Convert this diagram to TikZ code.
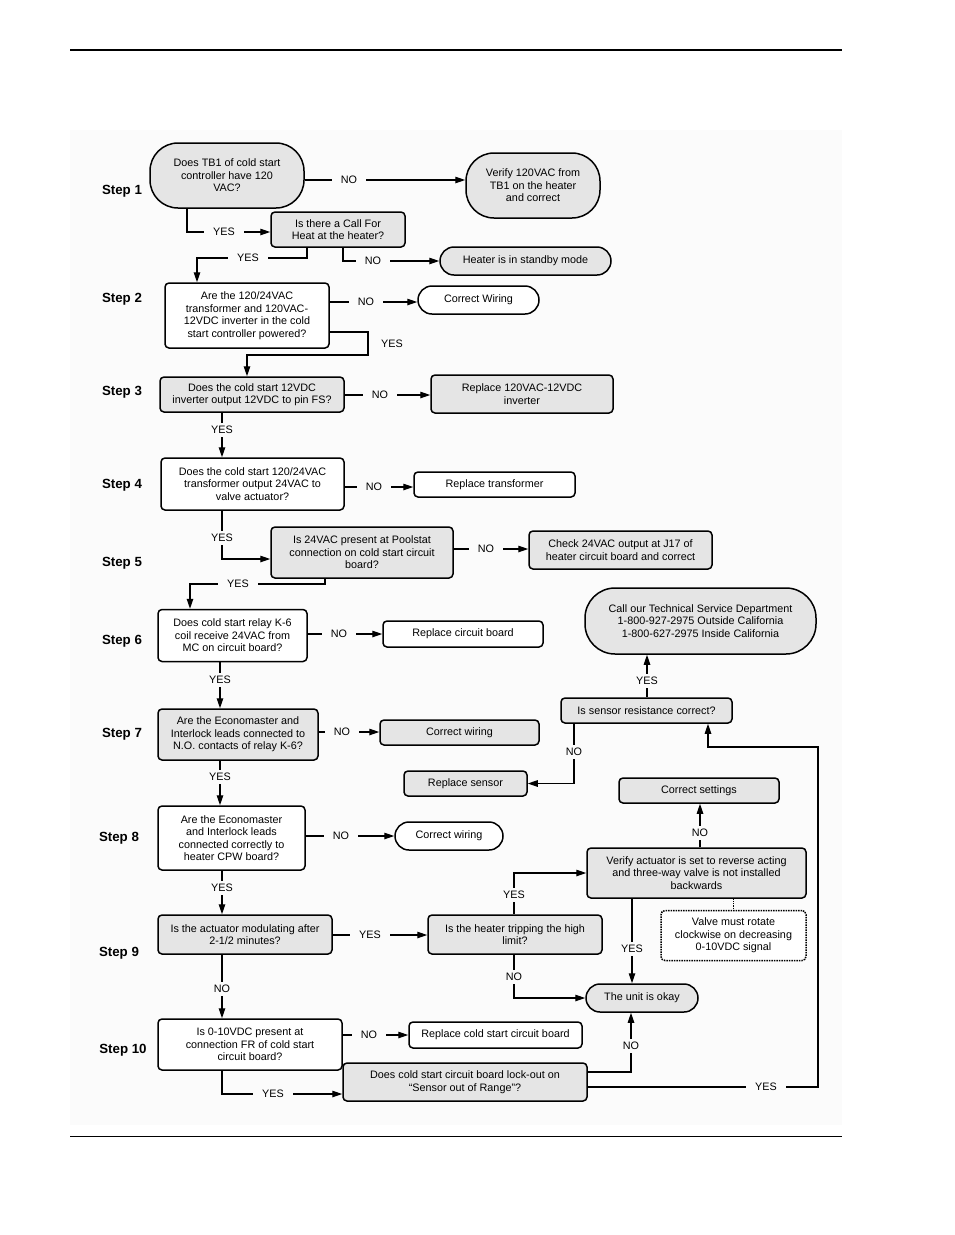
\documentclass[tikz,border=0pt]{standalone}
\usepackage{fontspec}
\setmainfont{Liberation Sans}
\usetikzlibrary{arrows.meta}
\definecolor{boxgray}{gray}{0.9}
\definecolor{pagegray}{gray}{0.985}

\begin{document}
\begin{tikzpicture}[x=1pt,y=-1pt,
    font=\fontsize{10.8}{12.5}\selectfont,
    cbox/.style 2 args={draw,line width=1.5pt,rounded corners=4pt,align=center,inner sep=1pt,fill=white,minimum width=#1,minimum height=#2},
    filled/.style={fill=boxgray},
    pill/.style={rounded corners=#1},
    steplbl/.style={font=\fontsize{13.3}{15}\selectfont\bfseries},
    ans/.style={inner xsep=9pt,inner ysep=3pt},
    wire/.style={line width=1.2pt},
    go/.style={line width=1.2pt,-{Triangle[length=10pt,width=6.5pt]}}]
    \useasboundingbox (0,0) rectangle (954,1235);
    \fill[pagegray] (70,130) rectangle (842,1125);
    \draw[line width=2pt] (70,50) -- (842,50);
    \draw[line width=1pt] (70,1136) -- (842,1136);

    \node[steplbl] (s1) at (122,191) {Step 1};
    \node[steplbl] (s2) at (122,299) {Step 2};
    \node[steplbl] (s3) at (122,392) {Step 3};
    \node[steplbl] (s4) at (122,485) {Step 4};
    \node[steplbl] (s5) at (122,563) {Step 5};
    \node[steplbl] (s6) at (122,641) {Step 6};
    \node[steplbl] (s7) at (122,734) {Step 7};
    \node[steplbl] (s8) at (119,838) {Step 8};
    \node[steplbl] (s9) at (119,953) {Step 9};
    \node[steplbl] (s10) at (123,1050) {Step 10};

    \node[cbox={154}{65},filled,pill=28pt] (q1) at (227,175.5) {Does TB1 of cold start\\controller have 120\\VAC?};
    \node[cbox={134}{65},filled,pill=28pt] (v120) at (533,185.5) {Verify 120VAC from\\TB1 on the heater\\and correct};
    \node[cbox={134}{35},filled] (cfh) at (338,229.5) {Is there a Call For\\Heat at the heater?};
    \node[cbox={171}{28},filled,pill=14pt] (stby) at (525.5,261) {Heater is in standby mode};
    \node[cbox={164}{65}] (q2) at (247,315.5) {Are the 120/24VAC\\transformer and 120VAC-\\12VDC inverter in the cold\\start controller powered?};
    \node[cbox={121}{28},pill=14pt] (cw1) at (478.5,300) {Correct Wiring};
    \node[cbox={184}{35},filled] (q3) at (252,394.5) {Does the cold start 12VDC\\inverter output 12VDC to pin FS?};
    \node[cbox={182}{38},filled] (rinv) at (522,394) {Replace 120VAC-12VDC\\inverter};
    \node[cbox={183}{52}] (q4) at (252.5,484) {Does the cold start 120/24VAC\\transformer output 24VAC to\\valve actuator?};
    \node[cbox={161}{25}] (rtr) at (494.5,484.5) {Replace transformer};
    \node[cbox={182}{51},filled] (q5) at (362,552.5) {Is 24VAC present at Poolstat\\connection on cold start circuit\\board?};
    \node[cbox={183}{38},filled] (c24) at (620.5,550) {Check 24VAC output at J17 of\\heater circuit board and correct};
    \node[cbox={149}{52}] (q6) at (232.5,635.5) {Does cold start relay K-6\\coil receive 24VAC from\\MC on circuit board?};
    \node[cbox={160}{26}] (rcb) at (463,634) {Replace circuit board};
    \node[cbox={160}{51},filled] (q7) at (238,734.5) {Are the Economaster and\\Interlock leads connected to\\N.O. contacts of relay K-6?};
    \node[cbox={159}{25},filled] (cw2) at (459.5,732.5) {Correct wiring};
    \node[cbox={147}{64}] (q8) at (231.5,838) {Are the Economaster\\and Interlock leads\\connected correctly to\\heater CPW board?};
    \node[cbox={108}{28},pill=14pt] (cw3) at (449,836) {Correct wiring};
    \node[cbox={174}{39},filled] (q9) at (245,934.5) {Is the actuator modulating after\\2-1/2 minutes?};
    \node[cbox={174}{39},filled] (hl) at (515,934.5) {Is the heater tripping the high\\limit?};
    \node[cbox={184}{51}] (q10) at (250,1044.5) {Is 0-10VDC present at\\connection FR of cold start\\circuit board?};
    \node[cbox={173}{26}] (rcs) at (495.5,1035) {Replace cold start circuit board};
    \node[cbox={244}{38},filled] (lock) at (465,1082) {Does cold start circuit board lock-out on\\“Sensor out of Range”?};
    \node[cbox={112}{28},filled,pill=14pt] (ok) at (642,998) {The unit is okay};
    \node[cbox={219}{50},filled] (va) at (696.5,873) {Verify actuator is set to reverse acting\\and three-way valve is not installed\\backwards};
    \node[cbox={160}{25},filled] (cset) at (699,790.5) {Correct settings};
    \node[cbox={145}{50},densely dotted] (note) at (733.5,935.5) {Valve must rotate\\clockwise on decreasing\\0-10VDC signal};
    \node[cbox={171}{25},filled] (sens) at (646.5,710.5) {Is sensor resistance correct?};
    \node[cbox={123}{25},filled] (rsen) at (465.5,783.5) {Replace sensor};
    \node[cbox={231}{66},filled,pill=30pt] (tsd) at (700.5,621) {Call our Technical Service Department\\1-800-927-2975 Outside California\\1-800-627-2975 Inside California};

    \node[ans] (n1) at (349,180) {NO};
    \draw[wire] (n1 -| q1.east) -- (n1);
    \draw[go] (n1) -- (n1 -| v120.west);
    \node[ans] (y1) at (224,232) {YES};
    \draw[wire] ([xshift=-40pt]q1.south) |- (y1);
    \draw[go] (y1) -- (y1 -| cfh.west);
    \node[ans] (y2) at (248,258) {YES};
    \draw[wire] ([xshift=-31pt]cfh.south) |- (y2);
    \draw[go] (y2) -| ([xshift=-50pt]q2.north);
    \node[ans] (n2) at (373,261) {NO};
    \draw[wire] ([xshift=5pt]cfh.south) |- (n2);
    \draw[go] (n2) -- (n2 -| stby.west);

    \node[ans] (n3) at (366,302) {NO};
    \draw[wire] (n3 -| q2.east) -- (n3);
    \draw[go] (n3) -- (n3 -| cw1.west);
    \node[ans] (y3) at (392,344) {YES};
    \coordinate (c1) at (368,355);
    \draw[go] ([yshift=-16.5pt]q2.east) -| (c1) -| ([xshift=-5pt]q3.north);

    \node[ans] (n4) at (380,395) {NO};
    \draw[wire] (n4 -| q3.east) -- (n4);
    \draw[go] (n4) -- (n4 -| rinv.west);
    \node[ans] (y4) at (222,430) {YES};
    \draw[wire] (q3.south -| y4) -- (y4);
    \draw[go] (y4) -- (y4 |- q4.north);

    \node[ans] (n5) at (374,487) {NO};
    \draw[wire] (n5 -| q4.east) -- (n5);
    \draw[go] (n5) -- (n5 -| rtr.west);
    \node[ans] (y5) at (222,538) {YES};
    \draw[wire] (q4.south -| y5) -- (y5);
    \draw[go] (y5) |- ([yshift=-6.5pt]q5.west);

    \node[ans] (n6) at (486,549) {NO};
    \draw[wire] (n6 -| q5.east) -- (n6);
    \draw[go] (n6) -- (n6 -| c24.west);
    \node[ans] (y6) at (238,584) {YES};
    \draw[wire] ([xshift=-37pt]q5.south) |- (y6);
    \draw[go] (y6) -| ([xshift=-42.5pt]q6.north);

    \node[ans] (n7) at (339,634) {NO};
    \draw[wire] (n7 -| q6.east) -- (n7);
    \draw[go] (n7) -- (n7 -| rcb.west);
    \node[ans] (y7) at (220,680) {YES};
    \draw[wire] (q6.south -| y7) -- (y7);
    \draw[go] (y7) -- (y7 |- q7.north);

    \node[ans] (n8) at (342,732) {NO};
    \draw[wire] (n8 -| q7.east) -- (n8);
    \draw[go] (n8) -- (n8 -| cw2.west);
    \node[ans] (y8) at (220,777) {YES};
    \draw[wire] (q7.south -| y8) -- (y8);
    \draw[go] (y8) -- (y8 |- q8.north);

    \node[ans] (n9) at (341,836) {NO};
    \draw[wire] (n9 -| q8.east) -- (n9);
    \draw[go] (n9) -- (n9 -| cw3.west);
    \node[ans] (y9) at (222,888) {YES};
    \draw[wire] (q8.south -| y9) -- (y9);
    \draw[go] (y9) -- (y9 |- q9.north);

    \node[ans] (y10) at (370,935) {YES};
    \draw[wire] (y10 -| q9.east) -- (y10);
    \draw[go] (y10) -- (y10 -| hl.west);
    \node[ans] (n10) at (222,989) {NO};
    \draw[wire] (q9.south -| n10) -- (n10);
    \draw[go] (n10) -- (n10 |- q10.north);

    \node[ans] (n11) at (369,1035) {NO};
    \draw[wire] (n11 -| q10.east) -- (n11);
    \draw[go] (n11) -- (n11 -| rcs.west);
    \node[ans] (y11) at (273,1094) {YES};
    \draw[wire] ([xshift=-28pt]q10.south) |- (y11);
    \draw[go] (y11) -- (y11 -| lock.west);

    \node[ans] (n12) at (631,1046) {NO};
    \draw[wire] ([yshift=10pt]lock.east) -| (n12);
    \draw[go] (n12) -- (n12 |- ok.south);
    \node[ans] (y12) at (766,1087) {YES};
    \coordinate (c2) at (818,747);
    \draw[wire] ([yshift=-5pt]lock.east) -- (y12);
    \draw[go] (y12) -| (c2) -| ([xshift=61.5pt]sens.south);

    \node[ans] (y13) at (632,949) {YES};
    \draw[wire] (va.south -| y13) -- (y13);
    \draw[go] (y13) -- (y13 |- ok.north);
    \node[ans] (y14) at (514,895) {YES};
    \draw[wire] (hl.north -| y14) -- (y14);
    \draw[go] (y14) |- (va);
    \node[ans] (n13) at (514,977) {NO};
    \draw[wire] (hl.south -| n13) -- (n13);
    \draw[go] (n13) |- (ok);
    \node[ans] (n14) at (700,833) {NO};
    \draw[wire] (va.north -| n14) -- (n14);
    \draw[go] (n14) -- (n14 |- cset.south);
    \draw[wire,densely dotted] (note.north |- va.south) -- (note.north);

    \node[ans] (y15) at (647,681) {YES};
    \draw[wire] (sens.north -| y15) -- (y15);
    \draw[go] (y15) -- (y15 |- tsd.south);
    \node[ans] (n15) at (574,752) {NO};
    \draw[wire] (sens.south -| n15) -- (n15);
    \draw[go] (n15) |- (rsen);
\end{tikzpicture}
\end{document}
